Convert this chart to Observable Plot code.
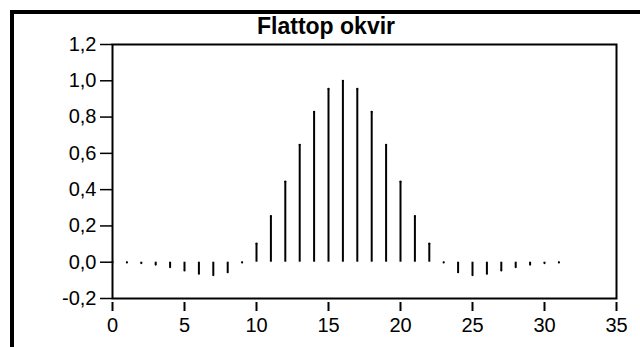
<!DOCTYPE html>
<html><head><meta charset="utf-8">
<script src="https://cdn.jsdelivr.net/npm/d3@7"></script>
<script src="https://cdn.jsdelivr.net/npm/@observablehq/plot@0.6"></script>
<style>
body{margin:0;background:#fff;width:640px;height:347px;overflow:hidden;position:relative;font-family:"Liberation Sans",Arial,sans-serif}
#frame{position:absolute;left:10px;top:10px;width:700px;height:400px;border-left:4px solid #000;border-top:4px solid #000}
#title{position:absolute;left:257px;top:13px;font-weight:bold;font-size:23px;line-height:26px;color:#000}
#chart{position:absolute;left:0;top:0}
</style></head><body>
<div id="frame"></div>
<div id="chart"></div>
<div id="title">Flattop okvir</div>
<script>
const sampleIndex = [0,1,2,3,4,5,6,7,8,9,10,11,12,13,14,15,16,17,18,19,20,21,22,23,24,25,26,27,28,29,30,31];
const windowValue = [0.000,-0.001,-0.005,-0.013,-0.027,-0.045,-0.063,-0.071,-0.055,-0.001,0.102,0.254,0.444,0.647,0.829,0.955,1.000,0.955,0.829,0.647,0.444,0.254,0.102,-0.001,-0.055,-0.071,-0.063,-0.045,-0.027,-0.013,-0.005,-0.001];
const xTicks = [0,5,10,15,20,25,30,35];
const yTicks = [-0.2,0,0.2,0.4,0.6,0.8,1.0,1.2];

const data = sampleIndex.map((n,i)=>({n, w: windowValue[i]}));
const fmt = v => (Math.abs(v)<1e-9?0:v).toFixed(1).replace(".", ",");

const chart = Plot.plot({
  width: 640, height: 347,
  marginLeft: 112, marginRight: 24, marginTop: 44, marginBottom: 49,
  style: {fontFamily: "'Liberation Sans', Arial, sans-serif", fontSize: "20px", background: "transparent", color: "#000"},
  x: {domain: [0, 35]},
  y: {domain: [-0.2, 1.2]},
  marks: [
    Plot.axisX({ticks: xTicks, tickSize: 9, tickPadding: 6, dy: 4, strokeWidth: 2, label: null, tickFormat: d => String(d), fontSize: 20}),
    Plot.axisY({ticks: yTicks, tickSize: 12, tickPadding: 4, strokeWidth: 1.5, label: null, tickFormat: fmt, fontSize: 20}),
    Plot.ruleX(data, {x: "n", y1: 0, y2: "w", stroke: "#000", strokeWidth: 2}),
    Plot.dot(data, {x: "n", y: "w", r: 1.1, fill: "#000", stroke: null}),
    Plot.frame({stroke: "#000", strokeWidth: 2})
  ]
});
document.getElementById("chart").appendChild(chart);
</script>
</body></html>
